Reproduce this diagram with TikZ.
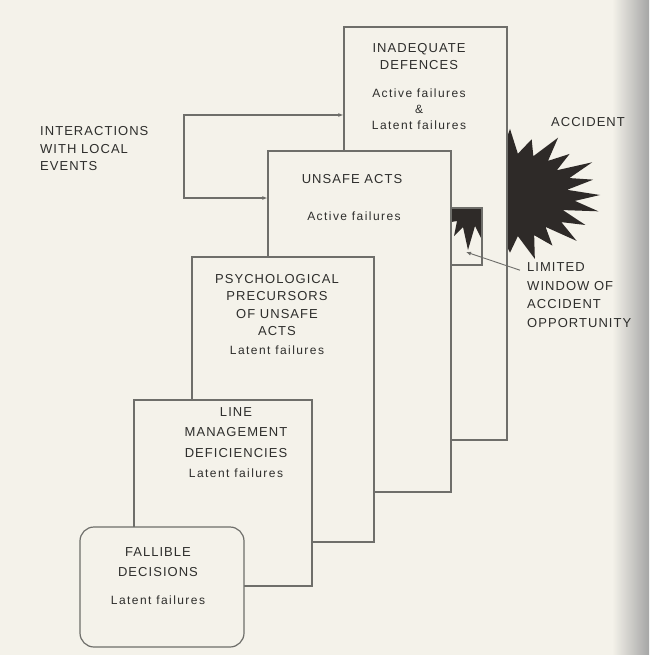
\documentclass[tikz,border=0pt]{standalone}
\usepackage{fontspec}
\usepackage{tikz}
\usetikzlibrary{arrows.meta}
\newfontfamily\capsfamily[LetterSpace=8]{Liberation Sans}
\newfontfamily\lowfamily[LetterSpace=12]{Liberation Sans}
\newcommand{\capsfont}{\capsfamily\fontsize{13}{17.5}\selectfont}
\newcommand{\lowfont}{\lowfamily\fontsize{12}{16}\selectfont}
\definecolor{paper}{HTML}{F4F2EA}
\definecolor{rule}{HTML}{6E6E6A}
\definecolor{ink}{HTML}{2E2E2C}
\definecolor{burst}{HTML}{2E2A28}
\tikzset{
plane/.style={draw=rule, fill=paper, line width=1.2pt, inner sep=0pt},
head/.style={font=\capsfont, text=ink, align=center, inner sep=1pt},
sub/.style={font=\lowfont, text=ink, align=center, inner sep=1pt},
side/.style={font=\capsfont, text=ink, align=left, inner sep=1pt},
feed/.style={draw=rule, line width=1.1pt, -{Latex[length=5pt,width=4pt]}},
feedback/.style={draw=rule, line width=1.1pt, {Latex[length=5pt,width=4pt]}-{Latex[length=5pt,width=4pt]}}
}
\begin{document}
\begin{tikzpicture}[x=1pt, y=-1pt]
\fill[paper] (0,0) rectangle (649,655);
\shade[left color=paper, right color=black!35] (612,0) rectangle (649,655);
\useasboundingbox (0,0) rectangle (649,655);
\fill[burst] (600,195) \foreach \i [evaluate=\i as \r using {(1-0.32*mod(\i,2))*(1+0.07*sin(83*\i))}] in {1,...,47} { -- ({510+90*\r*cos(7.5*\i)},{195+62*\r*sin(7.5*\i)}) } -- cycle;
\node[plane, minimum width=163pt, minimum height=413pt] (defences) at (425.5,233.5) {};
\fill[burst] (451,208) -- (482,208) -- (482,240) -- (475,226) -- (468,250) -- (463,227) -- (454,236) -- (457,221) -- (451,222) -- cycle;
\draw[rule, line width=1.2pt] (451,208) rectangle (482,265);
\node[plane, minimum width=183pt, minimum height=341pt] (unsafe) at (359.5,321.5) {};
\node[plane, minimum width=182pt, minimum height=285pt] (precursors) at (283,399.5) {};
\node[plane, minimum width=178pt, minimum height=186pt] (management) at (223,493) {};
\node[plane, rounded corners=14pt, minimum width=164pt, minimum height=120pt] (decisions) at (162,587) {};
\node[head] (defhead) at (419,56.5) {INADEQUATE\\DEFENCES};
\node[sub] (defsub) at (419,109) {Active failures\\\&\\Latent failures};
\node[head] (unsafehead) at (352,179) {UNSAFE ACTS};
\node[sub] (unsafesub) at (354,216) {Active failures};
\node[head] (prehead) at (277,305) {PSYCHOLOGICAL\\PRECURSORS\\OF UNSAFE\\ACTS};
\node[sub] (presub) at (277,350) {Latent failures};
\node[head] (linehead) at (236,432.5) {LINE\\[3pt]MANAGEMENT\\[3pt]DEFICIENCIES};
\node[sub] (linesub) at (236,473) {Latent failures};
\node[head] (fallhead) at (158,562) {FALLIBLE\\[2pt]DECISIONS};
\node[sub] (fallsub) at (158,600) {Latent failures};
\node[side, anchor=west] (interact) at (39,149) {INTERACTIONS\\WITH LOCAL\\EVENTS};
\node[head] (accident) at (588,122) {ACCIDENT};
\node[side, anchor=west, font=\capsfamily\fontsize{13}{18.7}\selectfont] (limited) at (526,295) {LIMITED\\WINDOW OF\\ACCIDENT\\OPPORTUNITY};
\coordinate (bend) at (184,115);
\coordinate (gap) at (466,252);
\draw[feedback] (defences.west |- bend) -- (bend) |- (unsafe.west |- 0,198);
\draw[feed, line width=0.9pt] ([xshift=-6pt, yshift=-9pt]limited.north west) -- (gap);
\end{tikzpicture}
\end{document}
